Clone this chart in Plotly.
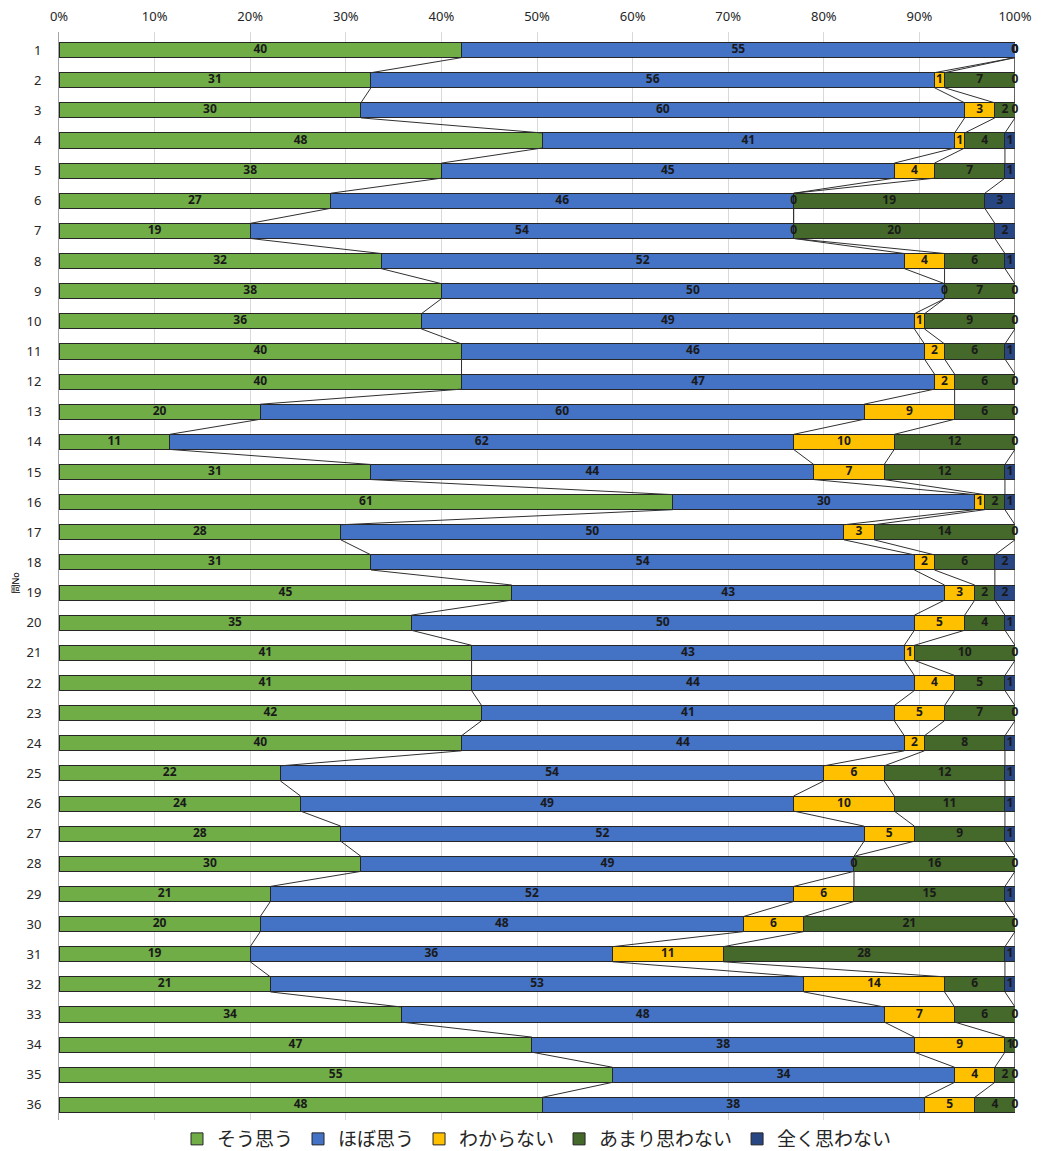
import plotly.graph_objects as go

questions = [str(i) for i in range(1, 37)]
series_names = ["そう思う", "ほぼ思う", "わからない", "あまり思わない", "全く思わない"]
sou_omou = [40, 31, 30, 48, 38, 27, 19, 32, 38, 36, 40, 40, 20, 11, 31, 61, 28, 31,
            45, 35, 41, 41, 42, 40, 22, 24, 28, 30, 21, 20, 19, 21, 34, 47, 55, 48]
hobo_omou = [55, 56, 60, 41, 45, 46, 54, 52, 50, 49, 46, 47, 60, 62, 44, 30, 50, 54,
             43, 50, 43, 44, 41, 44, 54, 49, 52, 49, 52, 48, 36, 53, 48, 38, 34, 38]
wakaranai = [0, 1, 3, 1, 4, 0, 0, 4, 0, 1, 2, 2, 9, 10, 7, 1, 3, 2,
             3, 5, 1, 4, 5, 2, 6, 10, 5, 0, 6, 6, 11, 14, 7, 9, 4, 5]
amari = [0, 7, 2, 4, 7, 19, 20, 6, 7, 9, 6, 6, 6, 12, 12, 2, 14, 6,
         2, 4, 10, 5, 7, 8, 12, 11, 9, 16, 15, 21, 28, 6, 6, 1, 2, 4]
mattaku = [0, 0, 0, 1, 1, 3, 2, 1, 0, 0, 1, 0, 0, 0, 1, 1, 0, 2,
           2, 1, 0, 1, 0, 1, 1, 1, 1, 0, 1, 0, 1, 1, 0, 0, 0, 0]
x_ticks = [0, 10, 20, 30, 40, 50, 60, 70, 80, 90, 100]
x_tick_labels = [f"{v}%" for v in x_ticks]
y_title = "問No"
colors = ["#70AD47", "#4472C4", "#FFC000", "#44692A", "#284682"]

all_series = [sou_omou, hobo_omou, wakaranai, amari, mattaku]
ypos = list(range(1, len(questions) + 1))
BAR_W = 0.5
FONT = "Noto Sans, Noto Sans CJK JP, sans-serif"

fig = go.Figure()
for name, vals, col in zip(series_names, all_series, colors):
    fig.add_trace(go.Bar(
        y=ypos, x=vals, name=name, orientation="h", width=BAR_W,
        marker=dict(color=col, line=dict(color="#262626", width=1)),
        hoverinfo="x+name",
    ))

# cumulative percentages for labels and series lines
totals = [sum(s[i] for s in all_series) for i in range(len(questions))]
cum_ends = []
lab_x, lab_y, lab_t = [], [], []
for i in range(len(questions)):
    c = 0
    ends = []
    for s in all_series:
        start = c / totals[i] * 100
        c += s[i]
        end = c / totals[i] * 100
        lab_x.append(round((start + end) / 2, 6))
        lab_y.append(ypos[i])
        lab_t.append(str(s[i]))
        ends.append(round(end, 6))
    cum_ends.append(ends)

lx, ly = [], []
for k in range(len(all_series)):
    for i in range(len(questions) - 1):
        lx += [cum_ends[i][k], cum_ends[i + 1][k], None]
        ly += [ypos[i] + BAR_W / 2, ypos[i + 1] - BAR_W / 2, None]
fig.add_trace(go.Scatter(x=lx, y=ly, mode="lines", line=dict(color="#303030", width=1),
                         showlegend=False, hoverinfo="skip", cliponaxis=False))

fig.add_trace(go.Scatter(x=lab_x, y=lab_y, text=lab_t, mode="text", cliponaxis=False,
                         textfont=dict(family=FONT, size=12, color="#1a1a1a", weight="bold"),
                         showlegend=False, hoverinfo="skip"))

fig.update_layout(
    barmode="stack", barnorm="percent",
    width=1043, height=1143,
    margin=dict(l=51, r=36, t=24, b=31, autoexpand=False),
    plot_bgcolor="white", paper_bgcolor="white",
    font=dict(family=FONT, color="#404040"),
    legend=dict(orientation="h", x=0.5, xanchor="center", y=-0.0175, yanchor="middle",
                font=dict(size=19, color="#262626"), traceorder="normal"),
    xaxis=dict(side="top", range=[0, 100.0001], tickvals=x_ticks, ticktext=x_tick_labels,
               showgrid=True, gridcolor="#D9D9D9", gridwidth=1, automargin=False,
               zeroline=False, tickfont=dict(size=13, color="#262626"), showline=False,
               ticklabelstandoff=7),
    yaxis=dict(range=[36.5, 0.4], tickvals=ypos, ticktext=questions, automargin=False,
               tickfont=dict(size=13, color="#262626"), showgrid=False, zeroline=False,
               showline=True, linecolor="#A6A6A6", linewidth=1, ticklabelstandoff=14),
    annotations=[dict(text=y_title, xref="paper", yref="paper", x=-0.045, y=0.494,
                      xanchor="center", yanchor="middle",
                      textangle=-90, showarrow=False,
                      font=dict(size=9, color="#000000"))],
)

fig.write_html("out.html")
